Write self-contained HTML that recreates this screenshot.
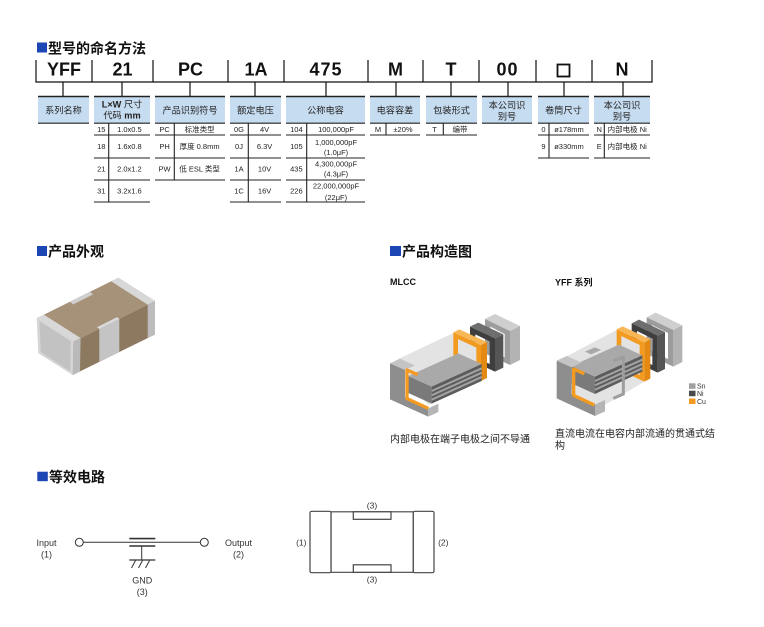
<!DOCTYPE html>
<html><head><meta charset="utf-8"><style>
html,body{margin:0;padding:0;background:#fff;}
svg{display:block;}
text{font-family:"Liberation Sans","Noto Sans CJK SC",sans-serif;}
</style></head><body>
<svg width="764" height="627" viewBox="0 0 764 627" xmlns="http://www.w3.org/2000/svg">
<rect width="764" height="627" fill="#fff"/>

<!-- Title 1 -->
<rect x="37" y="42.5" width="10" height="10" fill="#1b46b4"/>
<text x="48" y="53.3" font-size="14" font-weight="bold" fill="#111">型号的命名方法</text>

<!-- code bar -->
<g stroke="#111" stroke-width="1.2" fill="none">
<line x1="36" y1="60" x2="36" y2="82.5"/><line x1="92" y1="60" x2="92" y2="82"/><line x1="153" y1="60" x2="153" y2="82"/>
<line x1="228" y1="60" x2="228" y2="82"/><line x1="284" y1="60" x2="284" y2="82"/><line x1="368" y1="60" x2="368" y2="82"/>
<line x1="423" y1="60" x2="423" y2="82"/><line x1="479" y1="60" x2="479" y2="82"/><line x1="536" y1="60" x2="536" y2="82"/>
<line x1="592" y1="60" x2="592" y2="82"/><line x1="652" y1="60" x2="652" y2="82.5"/>
<line x1="35.4" y1="82" x2="652.6" y2="82"/>
<line x1="63" y1="82" x2="63" y2="96"/><line x1="122" y1="82" x2="122" y2="96"/><line x1="190" y1="82" x2="190" y2="96"/>
<line x1="255" y1="82" x2="255" y2="96"/><line x1="326" y1="82" x2="326" y2="96"/><line x1="396" y1="82" x2="396" y2="96"/>
<line x1="451" y1="82" x2="451" y2="96"/><line x1="508" y1="82" x2="508" y2="96"/><line x1="564" y1="82" x2="564" y2="96"/>
<line x1="623" y1="82" x2="623" y2="96"/>
</g>
<g font-size="18" font-weight="bold" fill="#111" text-anchor="middle">
<text x="64" y="75.5">YFF</text><text x="122.5" y="75.5">21</text><text x="190.5" y="75.5">PC</text>
<text x="256" y="75.5">1A</text><text x="326" y="75.5" letter-spacing="1">475</text><text x="395.5" y="75.5">M</text>
<text x="451" y="75.5">T</text><text x="507.5" y="75.5" letter-spacing="1">00</text><text x="622" y="75.5">N</text>
</g>
<rect x="557.5" y="64.5" width="12" height="12" fill="none" stroke="#111" stroke-width="1.8"/>

<!-- label boxes -->
<g fill="#c6dcf0">
<rect x="38" y="96" width="51" height="27"/><rect x="94" y="96" width="56" height="27"/><rect x="155" y="96" width="70" height="27"/>
<rect x="230" y="96" width="51" height="27"/><rect x="286" y="96" width="79" height="27"/><rect x="370" y="96" width="50" height="27"/>
<rect x="426" y="96" width="51" height="27"/><rect x="482" y="96" width="50" height="27"/><rect x="538" y="96" width="51" height="27"/>
<rect x="594" y="96" width="56" height="27"/>
</g>
<g stroke="#222" stroke-width="1.6">
<line x1="38" y1="96.5" x2="89" y2="96.5"/><line x1="94" y1="96.5" x2="150" y2="96.5"/><line x1="155" y1="96.5" x2="225" y2="96.5"/>
<line x1="230" y1="96.5" x2="281" y2="96.5"/><line x1="286" y1="96.5" x2="365" y2="96.5"/><line x1="370" y1="96.5" x2="420" y2="96.5"/>
<line x1="426" y1="96.5" x2="477" y2="96.5"/><line x1="482" y1="96.5" x2="532" y2="96.5"/><line x1="538" y1="96.5" x2="589" y2="96.5"/>
<line x1="594" y1="96.5" x2="650" y2="96.5"/>
</g>
<g stroke="#222" stroke-width="1.1">
<line x1="38" y1="123.2" x2="89" y2="123.2"/><line x1="94" y1="123.2" x2="150" y2="123.2"/><line x1="155" y1="123.2" x2="225" y2="123.2"/>
<line x1="230" y1="123.2" x2="281" y2="123.2"/><line x1="286" y1="123.2" x2="365" y2="123.2"/><line x1="370" y1="123.2" x2="420" y2="123.2"/>
<line x1="426" y1="123.2" x2="477" y2="123.2"/><line x1="482" y1="123.2" x2="532" y2="123.2"/><line x1="538" y1="123.2" x2="589" y2="123.2"/>
<line x1="594" y1="123.2" x2="650" y2="123.2"/>
<!-- table rows -->
<line x1="94" y1="135" x2="150" y2="135"/><line x1="94" y1="158" x2="150" y2="158"/><line x1="94" y1="180" x2="150" y2="180"/><line x1="94" y1="202" x2="150" y2="202"/>
<line x1="108.7" y1="123" x2="108.7" y2="202"/>
<line x1="155" y1="135" x2="225" y2="135"/><line x1="155" y1="158" x2="225" y2="158"/><line x1="155" y1="180" x2="225" y2="180"/>
<line x1="174.3" y1="123" x2="174.3" y2="180"/>
<line x1="230" y1="135" x2="281" y2="135"/><line x1="230" y1="158" x2="281" y2="158"/><line x1="230" y1="180" x2="281" y2="180"/><line x1="230" y1="202" x2="281" y2="202"/>
<line x1="248.3" y1="123" x2="248.3" y2="202"/>
<line x1="286" y1="135" x2="365" y2="135"/><line x1="286" y1="158" x2="365" y2="158"/><line x1="286" y1="180" x2="365" y2="180"/><line x1="286" y1="202" x2="365" y2="202"/>
<line x1="306.7" y1="123" x2="306.7" y2="202"/>
<line x1="370" y1="135" x2="420" y2="135"/><line x1="386" y1="123" x2="386" y2="135"/>
<line x1="426" y1="135" x2="477" y2="135"/><line x1="443.3" y1="123" x2="443.3" y2="135"/>
<line x1="538" y1="135" x2="589" y2="135"/><line x1="538" y1="158" x2="589" y2="158"/><line x1="549" y1="123" x2="549" y2="158"/>
<line x1="594" y1="135" x2="650" y2="135"/><line x1="594" y1="158" x2="650" y2="158"/><line x1="604.3" y1="123" x2="604.3" y2="158"/>
</g>

<!-- label text -->
<g font-size="9.2" fill="#222" text-anchor="middle">
<text x="63.5" y="113.5">系列名称</text>
<text x="122" y="107.3"><tspan font-weight="bold">L×W</tspan> 尺寸</text>
<text x="122" y="118.5">代码 <tspan font-weight="bold">mm</tspan></text>
<text x="190" y="113.5">产品识别符号</text>
<text x="255.5" y="113.5">额定电压</text>
<text x="325.5" y="113.5">公称电容</text>
<text x="395" y="113.5">电容容差</text>
<text x="451.5" y="113.5">包装形式</text>
<text x="507" y="108.5">本公司识</text><text x="507" y="119.5">别号</text>
<text x="563.5" y="113.5">卷筒尺寸</text>
<text x="622" y="108.5">本公司识</text><text x="622" y="119.5">别号</text>
</g>

<!-- table text -->
<g font-size="7.5" fill="#222" text-anchor="middle">
<text x="101.3" y="132">15</text><text x="129.4" y="132">1.0x0.5</text>
<text x="101.3" y="149.2">18</text><text x="129.4" y="149.2">1.6x0.8</text>
<text x="101.3" y="171.7">21</text><text x="129.4" y="171.7">2.0x1.2</text>
<text x="101.3" y="193.7">31</text><text x="129.4" y="193.7">3.2x1.6</text>

<text x="164.6" y="132">PC</text><text x="199.6" y="132">标准类型</text>
<text x="164.6" y="149.2">PH</text><text x="199.6" y="149.2">厚度 0.8mm</text>
<text x="164.6" y="171.7">PW</text><text x="199.6" y="171.7">低 ESL 类型</text>

<text x="239" y="132">0G</text><text x="264.6" y="132">4V</text>
<text x="239" y="149.2">0J</text><text x="264.6" y="149.2">6.3V</text>
<text x="239" y="171.7">1A</text><text x="264.6" y="171.7">10V</text>
<text x="239" y="193.7">1C</text><text x="264.6" y="193.7">16V</text>

<text x="296.4" y="132">104</text><text x="336" y="132">100,000pF</text>
<text x="296.4" y="149.2">105</text><text x="336" y="145">1,000,000pF</text><text x="336" y="155">(1.0μF)</text>
<text x="296.4" y="171.7">435</text><text x="336" y="166.7">4,300,000pF</text><text x="336" y="176.7">(4.3μF)</text>
<text x="296.4" y="193.7">226</text><text x="336" y="188.7">22,000,000pF</text><text x="336" y="200">(22μF)</text>

<text x="378" y="132">M</text><text x="403" y="132">±20%</text>
<text x="434.6" y="132">T</text><text x="460" y="132">编带</text>

<text x="543.5" y="132">0</text><text x="569" y="132">ø178mm</text>
<text x="543.5" y="149.2">9</text><text x="569" y="149.2">ø330mm</text>

<text x="599.2" y="132">N</text><text x="627.2" y="132">内部电极 Ni</text>
<text x="599.2" y="149.2">E</text><text x="627.2" y="149.2">内部电极 Ni</text>
</g>

<!-- Title 2 -->
<rect x="37" y="246" width="10" height="10" fill="#1b46b4"/>
<text x="48" y="256.3" font-size="14" font-weight="bold" fill="#111">产品外观</text>

<!-- chip -->
<g>
<polygon points="36.7,318.3 118.3,277.7 155,301 73.3,341.7" fill="#a59278"/>
<polygon points="73.3,341.7 155,301 155,334.5 72.7,375" fill="#8d795f"/>
<polygon points="36.7,318.3 73.3,341.7 72.7,375 38.3,353.3" fill="#d6d6d6"/>
<polygon points="39.5,321 70.8,341.2 70.3,371.5 40.8,352" fill="#c2c2c2"/>
<polygon points="36.7,318.3 44,314.7 80.6,338 73.3,341.7" fill="#d8d8d8"/>
<polygon points="73.3,341.7 80.6,338 80,371.5 72.7,375" fill="#bababa"/>
<polygon points="111,281.3 118.3,277.7 155,301 147.7,304.6" fill="#d8d8d8"/>
<polygon points="147.7,304.6 155,301 155,334.5 147.7,338.1" fill="#bcbcbc"/>
<polygon points="97,327.3 117,317.3 119.3,318.8 119.3,352 99.3,361.9 99.3,328.8" fill="#c4c4c4"/>
<polygon points="97,327.3 117,317.3 119.3,318.8 99.3,328.8" fill="#dadada"/>
<polygon points="70,301.6 90,291.6 93,294.5 73,304.5" fill="#cfcfcf"/>
</g>

<!-- Title 3 -->
<rect x="390" y="246" width="11" height="10" fill="#1b46b4"/>
<text x="402" y="256.3" font-size="14" font-weight="bold" fill="#111">产品构造图</text>
<text x="390" y="285" font-size="9" font-weight="bold" fill="#111">MLCC</text>
<text x="555" y="285.5" font-size="9" font-weight="bold" fill="#111">YFF 系列</text>

<!-- MLCC structure -->
<g transform="translate(385,305) scale(0.33333)">
<!-- Sn -->
<polygon points="300,42 330,27 405,63 375,78" fill="#cfcfcf"/>
<polygon points="375,78 405,63 405,165 375,180" fill="#b3b3b3"/>
<path d="M300,42 L375,78 L375,180 L300,145 Z M316,65 L316,139 L359,157 L359,87 Z" fill="#9c9c9c" fill-rule="evenodd"/>
<!-- Ni -->
<polygon points="255,65 280,53 355,88 330,100" fill="#6e6e6e"/>
<polygon points="330,100 355,88 355,188 330,200" fill="#555"/>
<path d="M255,65 L330,100 L330,200 L255,165 Z M271,88 L271,156 L314,177 L314,109 Z" fill="#3e3e3e" fill-rule="evenodd"/>
<!-- body -->
<polygon points="40,162 205,84 288,122 288,228 130,300 60,220" fill="#e3e3e3"/>
<!-- orange -->
<polygon points="205,82 223,73 306,111 288,120" fill="#f7b757"/>
<polygon points="288,120 306,111 306,219 288,228" fill="#e48a12"/>
<path d="M205,82 L288,120 L288,228 L205,190 Z M219,102 L219,182 L274,208 L274,128 Z" fill="#f39b20" fill-rule="evenodd"/>
<!-- plates -->
<polygon points="70,213 140,245 140,296 70,264" fill="#7a7a7a"/>
<polygon points="70,213 220,145 290,177 140,245" fill="#a9a9a9"/>
<polygon points="140,245 290,177 290,228 140,296" fill="#5c5c5c"/>
<g stroke="#a3a3a3" stroke-width="6">
<line x1="140" y1="258" x2="290" y2="190"/><line x1="140" y1="271" x2="290" y2="203"/><line x1="140" y1="284" x2="290" y2="216"/>
</g>
<!-- left cap -->
<polygon points="15,175 45,161 90,181 60,195" fill="#c4c4c4"/>
<polygon points="15,175 60,195 60,278 130,310 130,335 15,283" fill="#8e8e8e"/>
<polygon points="130,310 160,296 160,321 130,335" fill="#b5b5b5"/>
<polyline points="98,209 66,195 66,281 130,310" fill="none" stroke="#f39b20" stroke-width="10" stroke-linejoin="round"/>
</g>
<text x="390" y="442.5" font-size="10" fill="#222">内部电极在端子电极之间不导通</text>

<!-- YFF structure -->
<g transform="translate(545,270) scale(0.33333)">
<polygon points="305,142 332,128 412,166 385,180" fill="#cfcfcf"/>
<polygon points="385,180 412,166 412,276 385,290" fill="#b3b3b3"/>
<path d="M305,142 L385,180 L385,290 L305,252 Z M321,165 L321,243 L369,267 L369,189 Z" fill="#9c9c9c" fill-rule="evenodd"/>
<polygon points="260,160 282,149 360,186 338,197" fill="#6e6e6e"/>
<polygon points="338,197 360,186 360,297 338,308" fill="#555"/>
<path d="M260,160 L338,197 L338,308 L260,271 Z M276,183 L276,262 L322,285 L322,206 Z" fill="#3e3e3e" fill-rule="evenodd"/>
<polygon points="40,272 215,180 298,219 298,335 145,425 60,340" fill="#e3e3e3"/>
<polygon points="215,178 233,169 316,208 298,217" fill="#f7b757"/>
<polygon points="298,217 316,208 316,326 298,335" fill="#e48a12"/>
<path d="M215,178 L298,217 L298,335 L215,296 Z M229,198 L229,288 L284,315 L284,225 Z" fill="#f39b20" fill-rule="evenodd"/>
<polygon points="120,245 150,232 168,240 138,253" fill="#a9a9a9"/>
<polygon points="80,288 150,320 150,372 80,340" fill="#7a7a7a"/>
<polygon points="80,288 222,224 292,256 150,320" fill="#a9a9a9"/>
<polygon points="150,320 292,256 292,305 150,372" fill="#5c5c5c"/>
<g stroke="#a3a3a3" stroke-width="6">
<line x1="150" y1="333" x2="292" y2="269"/><line x1="150" y1="346" x2="292" y2="282"/><line x1="150" y1="359" x2="292" y2="295"/>
</g>
<polyline points="205,272 235,262 235,372 205,385" fill="none" stroke="#9d9d9d" stroke-width="9"/>
<polygon points="35,272 65,258 110,278 80,292" fill="#c4c4c4"/>
<polygon points="35,272 80,292 80,372 150,404 150,438 35,385" fill="#8e8e8e"/>
<polygon points="150,404 180,390 180,424 150,438" fill="#b5b5b5"/>
<polyline points="118,311 86,297 86,376 148,405" fill="none" stroke="#f39b20" stroke-width="10" stroke-linejoin="round"/>
</g>
<rect x="689" y="383.3" width="6.5" height="5.5" fill="#a0a0a0"/>
<rect x="689" y="390.7" width="6.5" height="5.5" fill="#4a4a4a"/>
<rect x="689" y="398.5" width="6.5" height="5.5" fill="#f29a22"/>
<g font-size="7" fill="#333">
<text x="697" y="388.5">Sn</text><text x="697" y="396">Ni</text><text x="697" y="404">Cu</text>
</g>
<text x="555" y="437" font-size="10" fill="#222">直流电流在电容内部流通的贯通式结</text>
<text x="555" y="449" font-size="10" fill="#222">构</text>

<!-- Title 4 -->
<rect x="37.3" y="471.7" width="10.5" height="9.5" fill="#1b46b4"/>
<text x="49" y="481.8" font-size="14" font-weight="bold" fill="#111">等效电路</text>

<!-- circuit -->
<g stroke="#333" fill="none">
<line x1="83.3" y1="542.3" x2="200.3" y2="542.3" stroke-width="1"/>
<circle cx="79.3" cy="542.3" r="4" fill="#fff" stroke-width="1"/>
<circle cx="204.3" cy="542.3" r="4" fill="#fff" stroke-width="1"/>
<line x1="129.3" y1="538.6" x2="155.3" y2="538.6" stroke-width="1.6"/>
<line x1="129.3" y1="546" x2="155.3" y2="546" stroke-width="1.6"/>
<line x1="141.7" y1="546" x2="141.7" y2="560" stroke-width="1"/>
<line x1="129.3" y1="560" x2="155.3" y2="560" stroke-width="1.2"/>
<line x1="131.5" y1="568" x2="135.5" y2="560.5" stroke-width="1"/>
<line x1="138.5" y1="568" x2="142.5" y2="560.5" stroke-width="1"/>
<line x1="145.5" y1="568" x2="149.5" y2="560.5" stroke-width="1"/>
</g>
<g font-size="9" fill="#333" text-anchor="middle">
<text x="46.5" y="546">Input</text><text x="46.5" y="557.5">(1)</text>
<text x="238.5" y="546">Output</text><text x="238.5" y="557.5">(2)</text>
<text x="142.3" y="583.5">GND</text><text x="142.3" y="595">(3)</text>
</g>

<g stroke="#444" stroke-width="1.2" fill="#fff">
<rect x="331" y="511.8" width="82.3" height="60.5" rx="0.5"/>
<rect x="310" y="511.3" width="21" height="61.4" rx="1.5"/>
<rect x="413.3" y="511.3" width="20.7" height="61.4" rx="1.5"/>
<rect x="353.3" y="511.8" width="37.7" height="7.5"/>
<rect x="353.3" y="564.8" width="37.7" height="7.5"/>
</g>
<g font-size="8.5" fill="#333" text-anchor="middle">
<text x="372" y="508.5">(3)</text><text x="372" y="582.5">(3)</text>
<text x="301.3" y="545.5">(1)</text><text x="443.3" y="545.5">(2)</text>
</g>
</svg>
</body></html>
